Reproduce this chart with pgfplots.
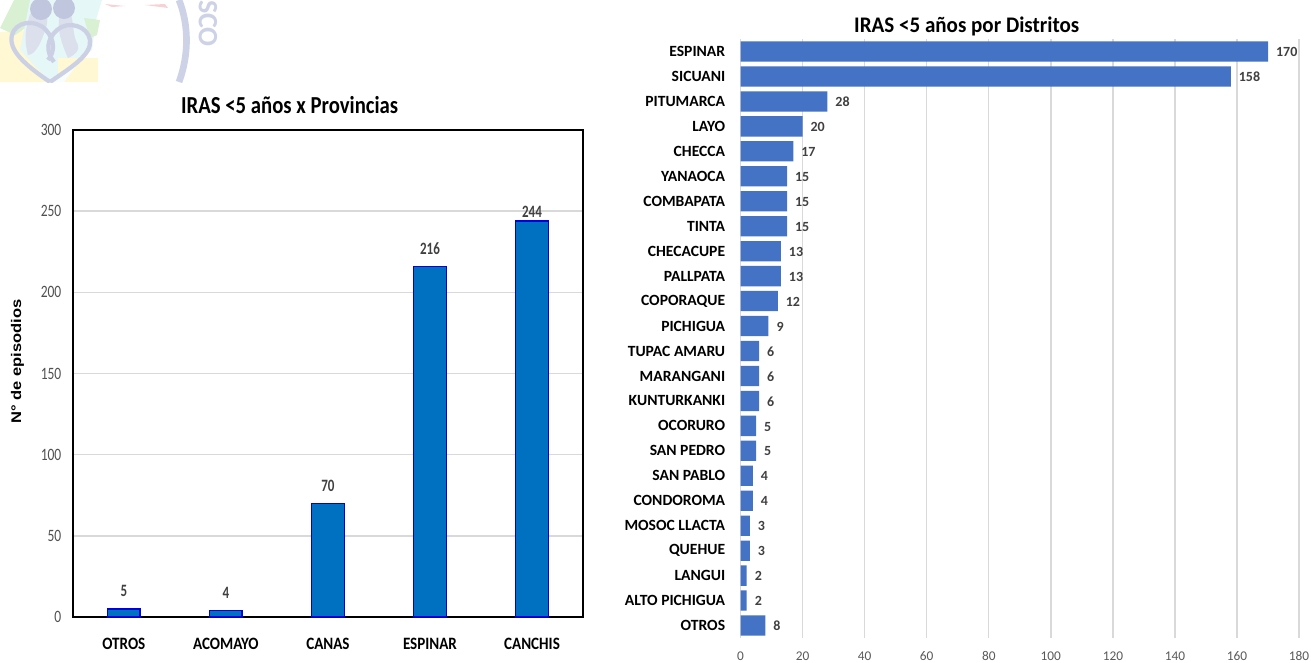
\documentclass[border=0pt]{standalone}
\usepackage{fontspec}
\setmainfont{Carlito}
\newfontfamily\arialf{Liberation Sans}
\usepackage{pgfplots}
\pgfplotsset{compat=1.18}
\definecolor{gridc}{HTML}{D9D9D9}
\definecolor{lab}{HTML}{404040}
\definecolor{tick}{HTML}{505050}
\definecolor{tickB}{HTML}{595959}
\definecolor{barA}{HTML}{0070C0}
\definecolor{edgeA}{HTML}{0000DD}
\definecolor{barB}{HTML}{4472C4}
\definecolor{arcc}{HTML}{CDD2E6}
\definecolor{logoY}{HTML}{FFF8D2}
\definecolor{logoG}{HTML}{D9F0D2}
\definecolor{logoC}{HTML}{E6F7F7}
\definecolor{logoB}{HTML}{CBD0E4}
\definecolor{logoD}{HTML}{C0C6DE}
\definecolor{logoR}{HTML}{F6D2D6}
\begin{document}
\begin{tikzpicture}
\path[use as bounding box] (0pt,0pt) rectangle (983.25pt,-496.5pt);
% logo remnant at the top left
\begin{scope}[x=0.75pt,y=-0.75pt]
\clip (0,0) rectangle (240,82);
\fill[logoY] (0,32) -- (30,30) -- (50,82) -- (0,82) -- cycle;
\fill[logoG] (0,28) -- (14,0) -- (40,0) -- (30,25) -- (15,35) -- cycle;
\fill[logoC] (30,0) -- (102,0) -- (96,20) -- (92,50) -- (50,82) -- (20,50) -- cycle;
\fill[logoG] (84,18) -- (100,20) -- (97,35) -- (90,38) -- cycle;
\fill[logoY] (58,58) -- (98,58) -- (98,82) -- (58,82) -- cycle;
\fill[white!70!logoC] (50,82) -- (70,65) -- (82,58) -- (64,82) -- cycle;
\fill[logoD!55!white] (30,14) .. controls (25,30) and (24,40) .. (28,55) .. controls (36,55) and (42,40) .. (46,28) .. controls (48,20) and (48,15) .. (45,12) -- cycle;
\fill[logoD!55!white] (60,15) .. controls (56,28) and (62,45) .. (68,58) .. controls (75,55) and (80,50) .. (78,45) .. controls (72,35) and (74,20) .. (70,12) -- cycle;
\draw[logoB,line width=3.2pt] (50,82) .. controls (25,65) and (8,50) .. (12,35) .. controls (15,22) and (35,18) .. (46,30) .. controls (55,40) and (55,52) .. (48,60);
\draw[logoB,line width=3.2pt] (50,82) .. controls (70,68) and (92,55) .. (90,40) .. controls (88,26) and (68,20) .. (57,30) .. controls (46,40) and (46,52) .. (54,62);
\fill[logoD] (41,9) circle (11);
\fill[logoD] (64,8) circle (11);
\fill[white] (102,0) rectangle (240,82);
\fill[logoR] (105,4) -- (125,6) -- (112,7) -- cycle;
\fill[logoR] (145,5) -- (165,4) -- (168,8) -- cycle;
\draw[arcc,line width=5pt] (179,0) .. controls (189,25) and (189,55) .. (179,82);
\node[rotate=-90,text=arcc,font=\fontsize{21}{21}\selectfont\bfseries,inner sep=0pt] at (208,23.5) {SCO};
\end{scope}
% left chart
\begin{axis}[
  at={(54.6pt,-462.75pt)},anchor=south west,
  width=382.7pt,height=365.25pt,scale only axis,
  ybar,bar width=24.5pt,
  xmin=-0.5,xmax=4.5,ymin=0,ymax=300,
  xtick={0,1,2,3,4},
  xticklabels={OTROS,ACOMAYO,CANAS,ESPINAR,CANCHIS},
  ytick={0,50,100,150,200,250,300},
  axis line style={black,line width=1.3pt},
  major tick length=0pt,
  ymajorgrids,
  major grid style={gridc,line width=1.2pt},
  x tick label style={font=\fontsize{13}{13}\selectfont\bfseries,text=black,xscale=0.87,yshift=-12.5pt},
  y tick label style={font=\fontsize{13}{13}\selectfont,text=tick,xscale=0.78,xshift=-7.5pt},
  /pgf/number format/assume math mode=true,
  ylabel={N° de episodios},
  ylabel style={font=\arialf\fontsize{10.5}{10.5}\selectfont\bfseries,xscale=1.18,at={(axis description cs:-0.1085,0.525)},anchor=center},
  title={IRAS <5 años x Provincias},
  title style={font=\fontsize{18.3}{18.3}\selectfont\bfseries,xscale=0.85,at={(axis description cs:0.425,1.0)},anchor=base,yshift=6.75pt},
  nodes near coords,
  every node near coord/.style={font=\fontsize{13}{13}\selectfont\bfseries,xscale=0.75,text=lab,anchor=center,yshift=13.5pt},
]
\addplot[fill=barA,draw=edgeA,line width=1.1pt,
  coordinate style/.condition={y>240}{yshift=-7pt}]
  coordinates {(0,5) (1,4) (2,70) (3,216) (4,244)};
\end{axis}
% right chart
\begin{axis}[
  at={(555.4pt,-478.5pt)},anchor=south west,
  width=418.9pt,height=449.25pt,scale only axis,
  xbar,bar width=15.2pt,
  y dir=reverse,
  ymin=-0.5,ymax=23.5,xmin=0,xmax=180,
  ytick={0,...,23},
  yticklabels={ESPINAR,SICUANI,PITUMARCA,LAYO,CHECCA,YANAOCA,COMBAPATA,TINTA,CHECACUPE,PALLPATA,COPORAQUE,PICHIGUA,TUPAC AMARU,MARANGANI,KUNTURKANKI,OCORURO,SAN PEDRO,SAN PABLO,CONDOROMA,MOSOC LLACTA,QUEHUE,LANGUI,ALTO PICHIGUA,OTROS},
  xtick={0,20,...,180},
  axis line style={draw=none},
  major tick length=0pt,
  xmajorgrids,
  major grid style={gridc,line width=1pt},
  x tick label style={font=\fontsize{10}{10}\selectfont,text=tickB,yshift=-8pt,inner sep=0pt,outer sep=2pt},
  y tick label style={font=\fontsize{11.7}{11.7}\selectfont\bfseries,text=black,xshift=-8pt},
  /pgf/number format/assume math mode=true,
  title={IRAS <5 años por Distritos},
  title style={font=\fontsize{16.7}{16.7}\selectfont\bfseries,xscale=0.945,at={(axis description cs:0.405,1.0)},anchor=base,yshift=-1pt},
  nodes near coords,
  every node near coord/.style={font=\fontsize{10.5}{10.5}\selectfont\bfseries,text=lab,anchor=west,xshift=2.5pt,yshift=-0.5pt},
]
\addplot[fill=barB,draw=none]
  coordinates {(170,0) (158,1) (28,2) (20,3) (17,4) (15,5) (15,6) (15,7) (13,8) (13,9) (12,10) (9,11) (6,12) (6,13) (6,14) (5,15) (5,16) (4,17) (4,18) (3,19) (3,20) (2,21) (2,22) (8,23)};
\end{axis}
\end{tikzpicture}
\end{document}
